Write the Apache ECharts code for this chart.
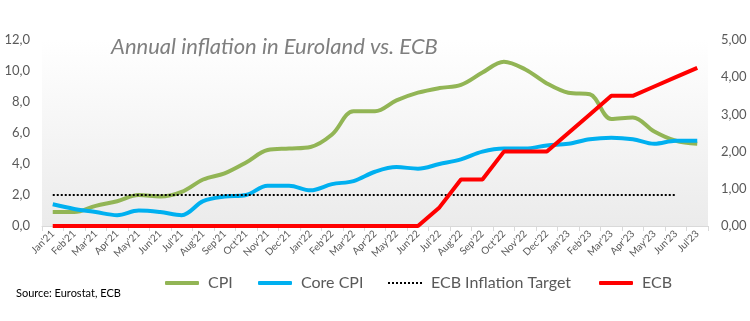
<!DOCTYPE html>
<html>
<head>
<meta charset="utf-8">
<script src="https://cdn.jsdelivr.net/npm/echarts@6/dist/echarts.min.js"></script>
<style>
html,body{margin:0;padding:0;background:#fff;}
#chart{width:750px;height:321px;}
</style>
</head>
<body>
<div id="chart"></div>
<script>
const categories = ["Jan'21","Feb'21","Mar'21","Apr'21","May'21","Jun'21","Jul'21","Aug'21","Sep'21","Oct'21","Nov'21","Dec'21",
  "Jan'22","Feb'22","Mar'22","Apr'22","May'22","Jun'22","Jul'22","Aug'22","Sep'22","Oct'22","Nov'22","Dec'22",
  "Jan'23","Feb'23","Mar'23","Apr'23","May'23","Jun'23","Jul'23"];
const cpi = [0.9,0.9,1.3,1.6,2.0,1.9,2.2,3.0,3.4,4.1,4.9,5.0,5.1,5.9,7.4,7.4,8.1,8.6,8.9,9.1,9.9,10.6,10.1,9.2,8.6,8.5,6.9,7.0,6.1,5.5,5.3];
const coreCpi = [1.4,1.1,0.9,0.7,1.0,0.9,0.7,1.6,1.9,2.0,2.6,2.6,2.3,2.7,2.9,3.5,3.8,3.7,4.0,4.3,4.8,5.0,5.0,5.2,5.3,5.6,5.7,5.6,5.3,5.5,5.5];
const target = [2,2,2,2,2,2,2,2,2,2,2,2,2,2,2,2,2,2,2,2,2,2,2,2,2,2,2,2,2,2,null];
const ecb = [0,0,0,0,0,0,0,0,0,0,0,0,0,0,0,0,0,0,0.5,1.25,1.25,2.0,2.0,2.0,2.5,3.0,3.5,3.5,3.75,4.0,4.25];
const leftTicks = {min:0, max:12, interval:2};
const rightTicks = {min:0, max:5, interval:1};

const FONT = 'Lato';
const chart = echarts.init(document.getElementById('chart'), null, {renderer:'canvas'});
let dots = '';
for (let i = 0; i <= 32; i += 4) dots += 'M' + i + ',0h2v2h-2z';
function legendAt(name, left, icon, h){
  return {
    data:[{name:name, icon:icon}], left:left, top:270, itemWidth:34, itemHeight:h,
    textStyle:{fontFamily:FONT, fontSize:16, color:'#595959', padding:[0,0,0,4]},
    selectedMode:false
  };
}
chart.setOption({
  animation:false,
  title:[
    {text:'Annual inflation in Euroland vs. ECB', left:106, top:31,
     textStyle:{fontFamily:FONT, fontStyle:'italic', fontWeight:'normal', fontSize:22, color:'#7f7f7f'}},
    {text:'Source: Eurostat, ECB', left:11, top:283,
     textStyle:{fontFamily:FONT, fontWeight:'normal', fontSize:11, color:'#000'}}
  ],
  legend:[
    legendAt('CPI',160,'roundRect',4),
    legendAt('Core CPI',253,'roundRect',4),
    legendAt('ECB Inflation Target',383,'path://' + dots,2),
    legendAt('ECB',594,'roundRect',4)
  ],
  grid:{left:42, right:42, top:40, bottom:95, show:true, borderWidth:0,
    backgroundColor:new echarts.graphic.LinearGradient(0,0,0,1,[{offset:0,color:'#ffffff'},{offset:1,color:'#ebebeb'}])},
  xAxis:{type:'category', data:categories, boundaryGap:true,
    axisLine:{lineStyle:{color:'#d9d9d9'}},
    axisTick:{show:true, interval:0, length:5, lineStyle:{color:'#d9d9d9'}},
    axisLabel:{interval:0, rotate:45, fontFamily:FONT, fontSize:10, color:'#595959', margin:6}},
  yAxis:[
    {type:'value', min:leftTicks.min, max:leftTicks.max, interval:leftTicks.interval,
     splitLine:{show:false}, axisLine:{show:false}, axisTick:{show:false},
     axisLabel:{fontFamily:FONT, fontSize:13, color:'#595959', margin:12,
       formatter:v=>v.toFixed(1).replace('.',',')}},
    {type:'value', min:rightTicks.min, max:rightTicks.max, interval:rightTicks.interval,
     splitLine:{show:false}, axisLine:{show:false}, axisTick:{show:false},
     axisLabel:{fontFamily:FONT, fontSize:13, color:'#595959', margin:13,
       formatter:v=>v.toFixed(2).replace('.',',')}}
  ],
  series:[
    {name:'CPI', type:'line', data:cpi, yAxisIndex:0, smooth:0.35, symbol:'none',
     lineStyle:{width:4, color:'#92b555'}, itemStyle:{color:'#92b555'}},
    {name:'Core CPI', type:'line', data:coreCpi, yAxisIndex:0, smooth:0.35, symbol:'none',
     lineStyle:{width:4, color:'#00b0f0'}, itemStyle:{color:'#00b0f0'}},
    {name:'ECB Inflation Target', type:'line', data:target, yAxisIndex:0, symbol:'none',
     lineStyle:{width:2, color:'#000000', type:[2,2]}, itemStyle:{color:'#000000'}},
    {name:'ECB', type:'line', data:ecb, yAxisIndex:1, symbol:'none',
     lineStyle:{width:4, color:'#ff0000'}, itemStyle:{color:'#ff0000'}}
  ]
});
</script>
</body>
</html>
